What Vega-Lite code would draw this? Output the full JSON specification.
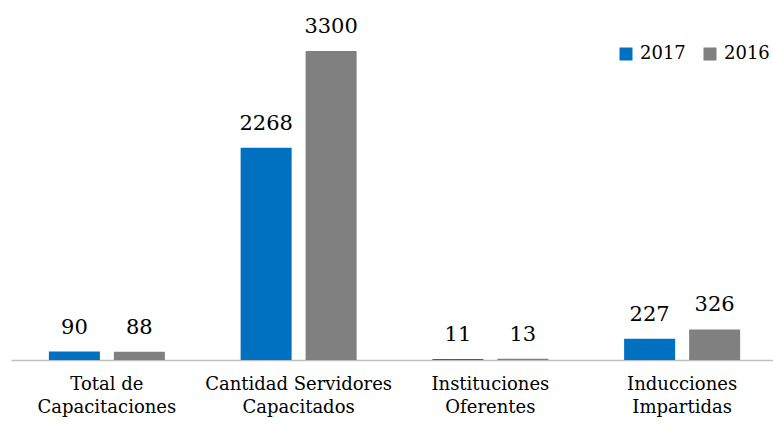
{
  "$schema": "https://vega.github.io/schema/vega-lite/v6.json",
  "autosize": {"type": "none"},
  "width": 762,
  "height": 309,
  "padding": {"left": 11, "top": 51, "right": 0, "bottom": 66},
  "background": "white",
  "config": {"view": {"stroke": null}, "font": "DejaVu Serif"},
  "data": {
    "values": [
      {"cat": "Total de|Capacitaciones", "year": "2017", "value": 90},
      {"cat": "Total de|Capacitaciones", "year": "2016", "value": 88},
      {"cat": "Cantidad Servidores|Capacitados", "year": "2017", "value": 2268},
      {"cat": "Cantidad Servidores|Capacitados", "year": "2016", "value": 3300},
      {"cat": "Instituciones|Oferentes", "year": "2017", "value": 11},
      {"cat": "Instituciones|Oferentes", "year": "2016", "value": 13},
      {"cat": "Inducciones|Impartidas", "year": "2017", "value": 227},
      {"cat": "Inducciones|Impartidas", "year": "2016", "value": 326}
    ]
  },
  "encoding": {
    "x": {
      "field": "cat",
      "type": "nominal",
      "sort": null,
      "scale": {"range": [0, 767], "paddingInner": 0.395, "paddingOuter": 0.1975},
      "axis": {
        "title": null,
        "labelAngle": 0,
        "labelExpr": "split(datum.label, '|')",
        "labelFont": "DejaVu Serif",
        "labelFontSize": 18,
        "labelLineHeight": 23,
        "labelLimit": 0,
        "labelColor": "#000000",
        "labelPadding": 15,
        "ticks": false,
        "domainColor": "#BFBFBF",
        "domainWidth": 1.5,
        "labelBaseline": "top"
      }
    },
    "xOffset": {"field": "year", "type": "nominal", "sort": ["2017", "2016"], "scale": {"paddingInner": 0.215, "paddingOuter": 0}},
    "y": {"field": "value", "type": "quantitative", "scale": {"domain": [0, 3300], "nice": false}, "axis": null}
  },
  "layer": [
    {
      "mark": {"type": "bar"},
      "encoding": {
        "color": {
          "field": "year",
          "type": "nominal",
          "scale": {"domain": ["2017", "2016"], "range": ["#0070C0", "#808080"]},
          "legend": {
            "title": null,
            "orient": "none",
            "legendX": 606,
            "legendY": -6,
            "direction": "horizontal",
            "columns": 2,
            "symbolType": "square",
            "symbolSize": 169,
            "symbolStrokeWidth": 0,
            "labelFont": "DejaVu Serif",
            "labelFontSize": 18,
            "labelColor": "#000000",
            "labelOffset": 5,
            "columnPadding": 15,
            "padding": 0
          }
        }
      }
    },
    {
      "mark": {"type": "text", "baseline": "alphabetic", "dy": -18, "font": "DejaVu Serif", "fontSize": 21, "color": "#000000"},
      "encoding": {"text": {"field": "value", "type": "quantitative"}}
    }
  ]
}
